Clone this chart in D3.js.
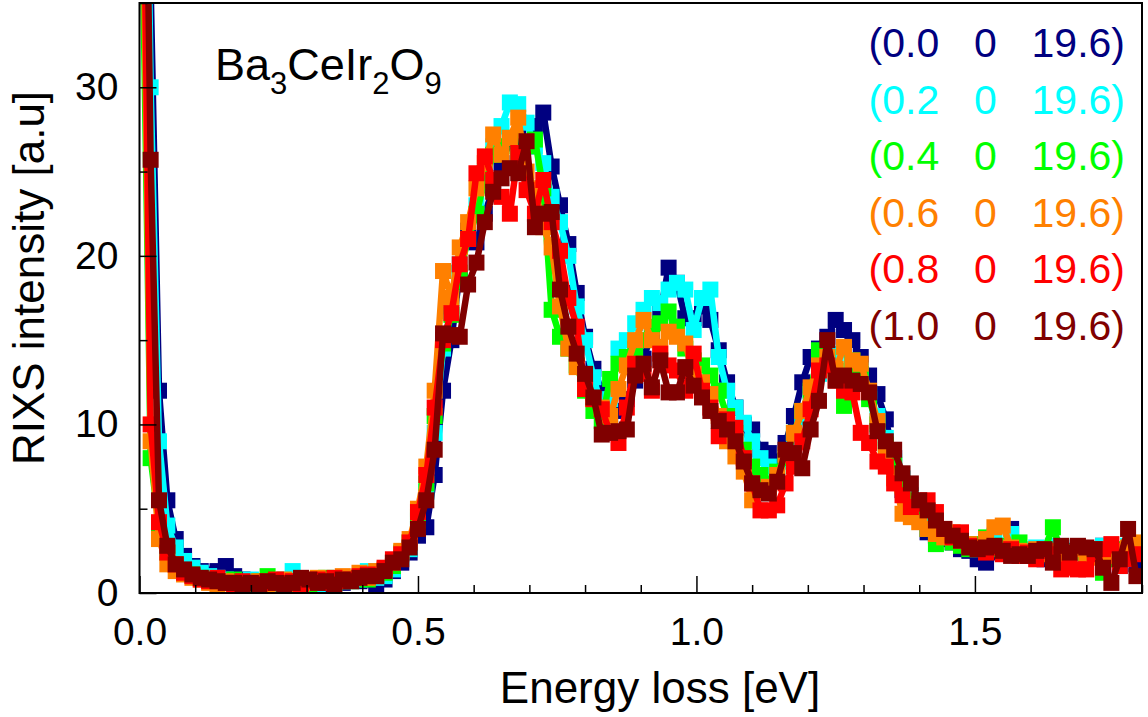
<!DOCTYPE html>
<html>
<head>
<meta charset="utf-8">
<script src="https://cdn.jsdelivr.net/npm/d3@7"></script>
<style>
  body { margin: 0; background: #fff; }
  svg text { font-family: "Liberation Sans", Arial, Helvetica, sans-serif; fill: #000; }
  .legend text { white-space: pre; }
</style>
</head>
<body>
<div id="chart"></div>
<script>
// energy loss grid [eV], shared by all six scans
var energy = [
  0.005,0.020,0.035,0.050,0.065,0.080,0.095,0.110,0.125,0.140,
  0.155,0.170,0.185,0.200,0.215,0.230,0.245,0.260,0.275,0.290,
  0.305,0.320,0.335,0.350,0.365,0.380,0.395,0.410,0.425,0.440,
  0.455,0.470,0.485,0.500,0.515,0.530,0.545,0.560,0.575,0.590,
  0.605,0.620,0.635,0.650,0.665,0.680,0.695,0.710,0.725,0.740,
  0.755,0.770,0.785,0.800,0.815,0.830,0.845,0.860,0.875,0.890,
  0.905,0.920,0.935,0.950,0.965,0.980,0.995,1.010,1.025,1.040,
  1.055,1.070,1.085,1.100,1.115,1.130,1.145,1.160,1.175,1.190,
  1.205,1.220,1.235,1.250,1.265,1.280,1.295,1.310,1.325,1.340,
  1.355,1.370,1.385,1.400,1.415,1.430,1.445,1.460,1.475,1.490,
  1.505,1.520,1.535,1.550,1.565,1.580,1.595,1.610,1.625,1.640,
  1.655,1.670,1.685,1.700,1.715,1.730,1.745,1.760,1.775,1.790
]

// RIXS intensity [a.u.] for each Q = (H 0 19.6)
var q00 = [
  75,36,12,5.5,3.2,2.2,1.6,1.3,1.1,1.3,
  1.6,1.0,0.8,0.7,0.6,0.7,0.5,0.4,0.6,0.5,
  0.7,0.6,0.5,0.7,0.6,0.8,0.7,0.8,0.5,0.8,
  1.3,1.8,2.4,3.4,3.9,7.0,12.0,15.0,19.0,21.5,
  20.8,22.5,24.0,25.5,26.8,27.0,26.5,27.7,28.5,25.3,
  23.0,20.7,17.8,15.2,13.3,12.0,10.5,10.8,11.5,12.6,
  13.9,15.5,16.6,19.3,18.4,16.3,16.3,17.0,16.2,14.4,
  12.5,11.0,10.0,9.7,8.5,8.3,7.8,8.9,10.5,12.5,
  14.0,14.5,15.2,16.2,15.6,15.0,14.0,12.9,11.8,10.3,
  8.0,6.1,5.4,4.6,3.6,3.4,3.2,3.0,2.6,2.5,
  2.0,1.8,2.4,2.6,3.8,2.5,2.2,2.4,2.0,2.3,
  2.7,2.5,2.4,2.1,2.6,2.8,2.2,1.6,2.6,1.7
]
var q02 = [
  65,30,9,4.0,2.7,1.9,1.5,1.2,1.0,0.9,
  0.8,0.7,0.6,0.8,0.6,0.5,0.7,0.8,1.3,0.6,
  0.7,0.5,0.8,0.6,0.7,0.9,0.8,1.3,0.9,1.0,
  1.4,2.1,2.6,4.3,6.0,9.5,14.5,17.0,19.5,21.0,
  23.0,25.0,26.5,27.7,29.1,29.0,27.9,26.5,25.5,23.5,
  22.0,20.0,17.0,15.0,12.8,11.0,11.5,14.5,15.0,16.0,
  16.8,17.5,17.2,18.0,18.4,18.0,15.6,17.5,18.0,14.0,
  12.0,11.0,10.1,9.0,8.0,7.5,7.0,7.8,9.0,10.5,
  11.8,13.0,13.8,14.2,14.4,13.5,13.2,11.8,10.5,9.2,
  7.8,6.8,5.8,4.8,4.2,3.8,3.4,3.5,3.0,2.9,
  2.6,3.0,3.4,2.8,3.5,2.5,2.6,2.7,2.4,2.8,
  2.5,2.3,2.6,2.4,2.5,2.8,2.3,2.0,2.8,2.5
]
var q04 = [
  40,8,4.0,2.4,1.7,1.3,1.1,0.9,0.8,0.7,
  0.6,0.8,0.5,0.6,0.7,1.0,0.6,0.5,0.7,0.6,
  0.5,0.7,0.9,0.6,0.8,0.7,0.9,0.8,1.1,1.2,
  1.6,2.4,3.0,4.5,6.5,10.5,14.8,16.5,19.0,21.0,
  22.5,24.5,26.0,26.5,27.0,26.0,26.5,26.9,24.0,16.8,
  15.2,14.5,13.5,12.0,10.8,10.2,12.7,13.6,14.0,14.5,
  15.0,15.8,16.0,16.7,15.8,14.5,13.8,13.5,12.9,12.0,
  10.5,9.5,8.5,7.5,7.0,6.5,7.2,8.0,9.5,10.8,
  12.0,14.4,14.0,13.2,11.1,13.8,13.0,11.5,10.0,8.8,
  7.6,6.5,5.5,4.5,3.8,2.9,3.3,3.0,2.8,2.6,
  2.9,3.3,2.6,2.8,2.5,3.0,2.4,2.2,2.6,3.9,
  2.5,2.4,2.7,2.2,2.6,1.2,2.0,2.6,2.4,2.8
]
var q06 = [
  45,9,3.2,1.7,1.3,1.1,0.9,0.8,0.6,0.5,
  0.7,0.5,0.4,0.6,0.7,0.5,0.6,0.8,0.5,0.7,
  0.6,0.9,0.6,0.8,1.0,0.9,1.2,0.9,1.3,1.4,
  1.8,2.5,3.2,5.0,7.5,12.0,19.1,17.5,20.5,22.0,
  24.0,25.5,27.2,26.0,27.0,28.2,25.0,24.0,21.7,20.5,
  17.0,14.5,13.4,12.5,11.5,11.0,10.5,12.1,13.5,15.0,
  16.2,15.0,14.6,15.5,15.2,14.8,13.0,12.5,11.8,10.5,
  9.0,8.1,7.2,5.5,6.0,6.3,7.0,8.2,9.5,10.8,
  12.2,13.5,14.0,13.3,14.6,13.8,13.6,12.0,10.2,8.5,
  6.8,4.7,4.5,4.2,3.8,3.5,3.3,3.6,3.1,2.9,
  2.7,3.2,3.9,4.0,2.7,2.5,2.4,2.6,2.3,2.5,
  2.2,2.4,2.6,2.3,2.1,1.8,2.2,2.5,2.7,3.0
]
var q08 = [
  50,10,4.2,2.4,1.7,1.2,1.0,0.8,0.7,0.9,
  0.6,0.5,0.7,0.6,0.5,0.6,0.8,0.6,0.7,0.5,
  0.7,0.8,0.6,0.9,0.7,0.8,1.0,1.1,1.0,1.5,
  2.0,2.3,3.0,4.8,7.0,11.0,15.0,16.6,19.5,21.0,
  24.9,25.9,24.5,23.5,22.5,26.1,23.9,22.5,24.5,22.0,
  20.3,17.5,15.8,12.1,11.5,10.9,9.5,8.9,11.0,13.6,
  13.0,12.0,14.2,13.5,13.2,12.0,14.2,12.0,11.0,9.3,
  10.3,9.8,8.0,6.5,4.9,4.9,5.2,6.5,7.5,9.0,
  10.9,13.2,13.5,12.6,12.0,11.9,9.5,8.9,7.8,7.5,
  6.5,5.8,5.1,5.3,5.5,4.8,3.8,3.3,3.6,2.8,
  2.6,2.4,2.7,2.3,2.6,2.2,2.4,2.0,2.5,2.3,
  1.4,1.5,1.4,1.4,2.3,2.6,2.9,1.6,2.0,2.3
]
var q10 = [
  62,25.7,5.5,2.8,1.7,1.4,1.1,0.9,0.8,0.7,
  0.6,0.6,0.5,0.6,0.5,0.7,0.6,0.5,0.6,0.9,
  0.8,0.6,0.7,0.5,0.8,0.7,0.9,1.0,1.0,1.3,
  1.8,2.0,2.7,3.8,5.5,8.5,15.4,15.3,15.2,18.3,
  19.6,22.0,23.8,24.6,25.2,24.9,26.8,21.7,22.5,22.6,
  18.0,15.8,14.2,13.0,11.6,9.4,9.5,9.6,9.7,12.9,
  13.6,12.2,13.8,11.9,11.9,13.4,12.3,11.6,10.8,10.2,
  9.7,9.0,7.8,6.5,6.1,5.9,6.6,8.5,8.3,7.4,
  9.7,11.4,15.0,12.6,12.9,12.6,12.4,11.9,9.6,9.0,
  8.5,7.1,6.5,5.5,4.9,4.3,3.8,3.4,3.1,2.7,
  2.6,2.7,2.8,2.5,2.2,2.3,2.2,2.5,2.6,1.8,
  2.8,2.4,2.8,2.7,2.6,1.5,0.6,2.0,3.8,1.0
]

var seriesLabels = ["(0.0  0  19.6)", "(0.2  0  19.6)", "(0.4  0  19.6)",
                    "(0.6  0  19.6)", "(0.8  0  19.6)", "(1.0  0  19.6)"]
var seriesColors = ["#000080", "#00ffff", "#00ff00", "#ff8000", "#ff0000", "#800000"]
var xTickValues = [0, 0.5, 1.0, 1.5]
var yTickValues = [0, 10, 20, 30]

var series = [q00, q02, q04, q06, q08, q10].map(function(vals, i) {
  return {
    label: seriesLabels[i],
    color: seriesColors[i],
    points: vals.map(function(v, j) { return { e: energy[j], v: v } })
  }
})

var margin = { top: 3, right: 6, bottom: 124, left: 139.5 }
var width = 1148 - margin.left - margin.right
var height = 717 - margin.top - margin.bottom

var svg = d3.select("#chart")
  .append("svg")
    .attr("width", 1148)
    .attr("height", 717)

var plot = svg.append("g")
  .attr("transform", "translate(" + margin.left + "," + margin.top + ")")

var x = d3.scaleLinear()
  .domain([0, 1.8])
  .range([0, width])

var y = d3.scaleLinear()
  .domain([0, 35])
  .range([height, 0])

plot.append("clipPath")
  .attr("id", "plot-clip")
  .append("rect")
    .attr("width", width)
    .attr("height", height)

// data: thick line + square markers, brown drawn last
var line = d3.line()
  .x(function(d) { return x(d.e) })
  .y(function(d) { return y(d.v) })

var marker = 16
var layer = plot.append("g").attr("clip-path", "url(#plot-clip)")

series.forEach(function(s) {
  var g = layer.append("g")
  g.append("path")
    .datum(s.points)
    .attr("fill", "none")
    .attr("stroke", s.color)
    .attr("stroke-width", 6.5)
    .attr("stroke-linejoin", "round")
    .attr("d", line)
  g.selectAll("rect")
    .data(s.points)
    .enter()
    .append("rect")
      .attr("x", function(d) { return x(d.e) - marker / 2 })
      .attr("y", function(d) { return y(d.v) - marker / 2 })
      .attr("width", marker)
      .attr("height", marker)
      .attr("fill", s.color)
})

// axes, ticks pointing inward
var xMinor = x.ticks(18).filter(function(t) { return xTickValues.indexOf(Math.round(t * 10) / 10) < 0 })
var yMinor = y.ticks(7).filter(function(t) { return yTickValues.indexOf(t) < 0 })

plot.append("g")
  .attr("transform", "translate(0," + height + ")")
  .call(d3.axisBottom(x).tickValues(xTickValues).tickSize(-17).tickPadding(24).tickFormat(d3.format(".1f")))
plot.append("g")
  .attr("transform", "translate(0," + height + ")")
  .call(d3.axisBottom(x).tickValues(xMinor).tickSize(-8).tickFormat(""))

plot.append("g")
  .call(d3.axisLeft(y).tickValues(yTickValues).tickSize(-17).tickPadding(21))
plot.append("g")
  .call(d3.axisLeft(y).tickValues(yMinor).tickSize(-8).tickFormat(""))

plot.selectAll(".domain").remove()
plot.selectAll(".tick line").attr("stroke", "#000").attr("stroke-width", 1.5)
plot.selectAll(".tick text").attr("font-size", 39).attr("font-family", null)

plot.append("rect")
  .attr("width", width)
  .attr("height", height)
  .attr("fill", "none")
  .attr("stroke", "#000")
  .attr("stroke-width", 2)

// axis titles
svg.append("text")
  .attr("x", 660)
  .attr("y", 703)
  .attr("text-anchor", "middle")
  .attr("font-size", 44)
  .text("Energy loss [eV]")

svg.append("text")
  .attr("transform", "translate(44,278) rotate(-90)")
  .attr("text-anchor", "middle")
  .attr("font-size", 44)
  .text("RIXS intensity [a.u]")

// compound label
var title = svg.append("text")
  .attr("x", 215)
  .attr("y", 80)
  .attr("font-size", 45)
title.append("tspan").text("Ba")
title.append("tspan").attr("font-size", 31).attr("dy", 14).text("3")
title.append("tspan").attr("dy", -14).text("CeIr")
title.append("tspan").attr("font-size", 31).attr("dy", 14).text("2")
title.append("tspan").attr("dy", -14).text("O")
title.append("tspan").attr("font-size", 31).attr("dy", 14).text("9")

// legend
svg.append("g")
  .attr("class", "legend")
  .selectAll("text")
  .data(series)
  .enter()
  .append("text")
    .attr("x", 1125)
    .attr("y", function(d, i) { return 57 + i * 56.6 })
    .attr("text-anchor", "end")
    .attr("font-size", 41)
    .attr("word-spacing", 6)
    .attr("xml:space", "preserve")
    .style("fill", function(d) { return d.color })
    .text(function(d) { return d.label })
</script>
</body>
</html>
